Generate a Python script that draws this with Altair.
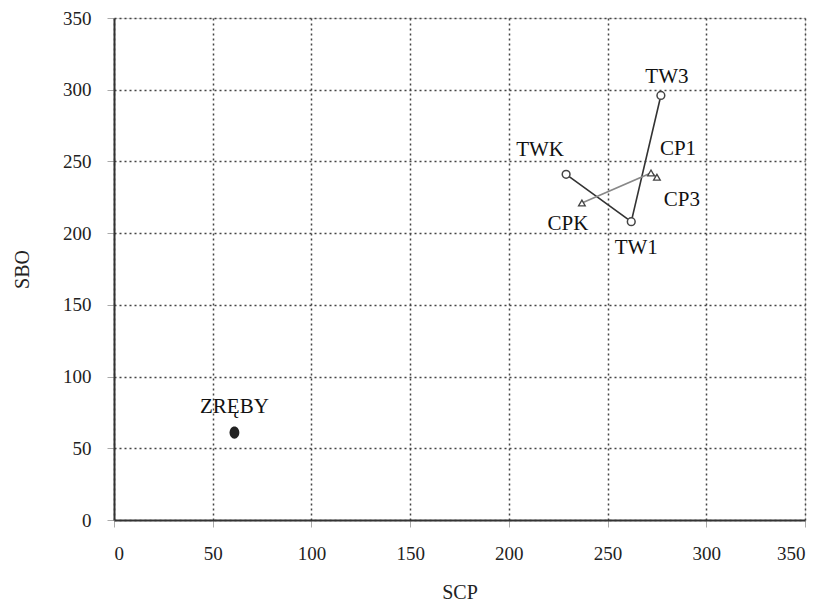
import altair as alt
import pandas as pd

names = ["TWK", "TW1", "TW3", "CPK", "CP1", "CP3", "ZRĘBY"]
groups = ["TW", "TW", "TW", "CP", "CP", "CP", "Z"]
order = [1, 2, 3, 1, 2, 3, 1]
scp = [229, 262, 277, 237, 272, 275, 61]
sbo = [241, 208, 296, 221, 242, 239, 61]

df = pd.DataFrame({"name": names, "group": groups, "order": order, "SCP": scp, "SBO": sbo})

FONT = "Liberation Serif"
xs = alt.Scale(domain=[0, 350], nice=False, zero=True)
ys = alt.Scale(domain=[0, 350], nice=False, zero=True)

xax = alt.Axis(values=list(range(0, 351, 50)), title="SCP", grid=True,
               gridDash=[2, 3], gridColor="#444", gridWidth=1.5, gridOpacity=1,
               labelFont=FONT, labelFontSize=19, labelColor="#222", labelPadding=17,
               tickSize=7, tickColor="#aaa", domainColor="#333", domainWidth=2,
               titleFont=FONT, titleFontSize=20, titleFontWeight="normal",
               titleColor="#222", titlePadding=19)
yax = alt.Axis(values=list(range(0, 351, 50)), title="SBO", grid=True,
               gridDash=[2, 3], gridColor="#444", gridWidth=1.5, gridOpacity=1,
               labelFont=FONT, labelFontSize=19, labelColor="#222", labelPadding=16,
               tickSize=7, tickColor="#aaa", domainColor="#333", domainWidth=2,
               titleFont=FONT, titleFontSize=20, titleFontWeight="normal",
               titleColor="#222", titlePadding=30)

base = alt.Chart(df)

axes_layer = base.mark_point(opacity=0).encode(
    x=alt.X("SCP:Q", scale=xs, axis=xax),
    y=alt.Y("SBO:Q", scale=ys, axis=yax),
)

enc = dict(x=alt.X("SCP:Q", scale=xs), y=alt.Y("SBO:Q", scale=ys), order="order:Q")

line_tw = base.transform_filter(alt.datum.group == "TW").mark_line(
    color="#333", strokeWidth=1.6).encode(**enc)
line_cp = base.transform_filter(alt.datum.group == "CP").mark_line(
    color="#888", strokeWidth=1.6).encode(**enc)

pt_tw = base.transform_filter(alt.datum.group == "TW").mark_point(
    shape="circle", size=60, filled=True, fill="white", stroke="#444", strokeWidth=1.5, opacity=1
).encode(x=alt.X("SCP:Q", scale=xs), y=alt.Y("SBO:Q", scale=ys))
pt_cp = base.transform_filter(alt.datum.group == "CP").mark_point(
    shape="triangle-up", size=45, filled=True, fill="white", stroke="#444", strokeWidth=1.3, opacity=1
).encode(x=alt.X("SCP:Q", scale=xs), y=alt.Y("SBO:Q", scale=ys))
pt_z = base.transform_filter(alt.datum.group == "Z").mark_point(
    shape="M-0.8,0 a0.8,1 0 1,0 1.6,0 a0.8,1 0 1,0 -1.6,0", size=150, filled=True,
    color="#222", opacity=1
).encode(x=alt.X("SCP:Q", scale=xs), y=alt.Y("SBO:Q", scale=ys))

offsets = {"TWK": (-26, -24), "TW1": (5, 26), "TW3": (6, -18), "CPK": (-14, 21),
           "CP1": (27, -24), "CP3": (25, 23), "ZRĘBY": (0, -26)}
labels = []
for n, (dx, dy) in offsets.items():
    labels.append(
        base.transform_filter(alt.datum.name == n).mark_text(
            font=FONT, fontSize=21, color="#111", dx=dx, dy=dy,
            align="center", baseline="middle"
        ).encode(x=alt.X("SCP:Q", scale=xs), y=alt.Y("SBO:Q", scale=ys), text="name:N")
    )

chart = alt.layer(axes_layer, line_tw, line_cp, pt_tw, pt_cp, pt_z, *labels).properties(
    width=691, height=502,
    autosize=alt.AutoSizeParams(type="none"),
    padding={"left": 106, "top": 10, "right": 7, "bottom": 85},
).configure_view(stroke="#333", strokeWidth=1.5).configure(background="white")

chart.save("out.html", embed_options={"renderer": "svg", "actions": False})
